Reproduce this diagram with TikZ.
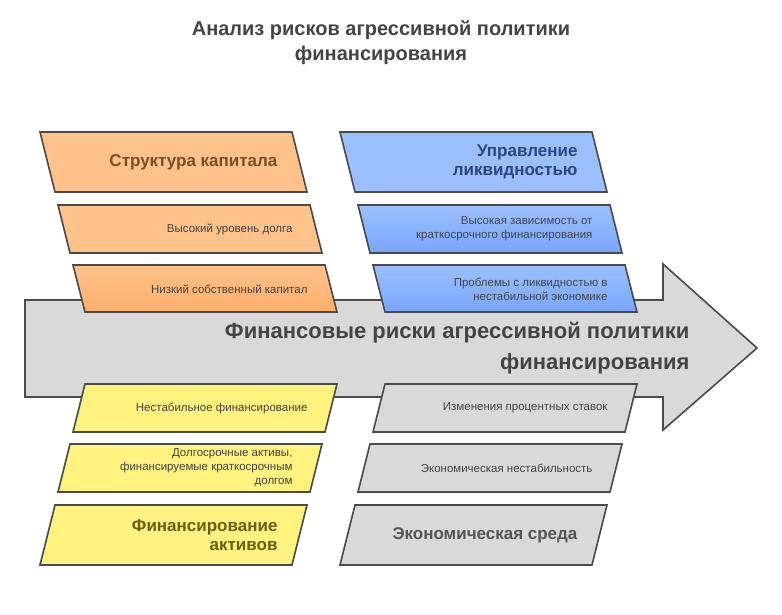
\documentclass[tikz,border=0pt]{standalone}
\usepackage{fontspec}
\setmainfont{Liberation Sans}
\definecolor{edge}{HTML}{4A4A4A}
\definecolor{org}{HTML}{FFC28A}
\definecolor{orgd}{HTML}{FDAE6B}
\definecolor{blu}{HTML}{9CC0FF}
\definecolor{blud}{HTML}{78A6FF}
\definecolor{yel}{HTML}{FFF27E}
\definecolor{gry}{HTML}{D9D9D9}
\definecolor{orgt}{HTML}{7A4E26}
\definecolor{blut}{HTML}{2B4780}
\definecolor{yelt}{HTML}{6B5E10}
\definecolor{gryt}{HTML}{555555}
\definecolor{txt}{HTML}{444444}
\newcommand{\paral}[7]{\draw[box,#7] (#3,#1) -- (#4,#1) -- (#6,#2) -- (#5,#2) -- cycle;}
\begin{document}
\begin{tikzpicture}[x=1pt,y=-1pt,
  box/.style={draw=edge,line width=1.6pt,line join=miter},
  small/.style={font=\fontsize{11.5}{14}\selectfont,text=txt,align=right,anchor=east},
  head/.style={font=\bfseries\fontsize{17}{19}\selectfont,align=right,anchor=east}]
\useasboundingbox (0,0) rectangle (782,614);
\node[font=\bfseries\fontsize{20}{25}\selectfont,text=txt,align=center] (title) at (381,43) {Анализ рисков агрессивной политики\\финансирования};
% arrow
\draw[box,fill=gry] (25,300) -- (663,300) -- (663,264) -- (757,348) -- (663,430) -- (663,397) -- (25,397) -- cycle;
\node[font=\bfseries\fontsize{22}{31}\selectfont,text=txt,align=right,anchor=east] (main) at (693,348) {Финансовые риски агрессивной политики\\финансирования};
% top left orange
\paral{132}{192}{40}{292}{55}{307}{fill=org}
\paral{205}{253}{58}{310}{70}{322}{fill=org}
\paral{265}{312}{73}{325}{85}{337}{top color=org,bottom color=orgd}
\node[head,text=orgt] (o1) at (281,162) {Структура капитала};
\node[small] (o2) at (296,229) {Высокий уровень долга};
\node[small] (o3) at (311,289) {Низкий собственный капитал};
% top right blue
\paral{132}{192}{340}{592}{355}{607}{top color=blu,bottom color=blu}
\paral{205}{253}{358}{610}{370}{622}{top color=blu,bottom color=blud}
\paral{265}{312}{373}{625}{385}{637}{top color=blu,bottom color=blud}
\node[head,text=blut] (b1) at (581,162) {Управление\\ликвидностью};
\node[small] (b2) at (596,229) {Высокая зависимость от\\краткосрочного финансирования};
\node[small] (b3) at (611,289) {Проблемы с ликвидностью в\\нестабильной экономике};
% bottom left yellow
\paral{384}{432}{85}{337}{73}{325}{fill=yel}
\paral{444}{492}{70}{322}{58}{310}{fill=yel}
\paral{505}{565}{55}{307}{40}{292}{fill=yel}
\node[small] (y1) at (311,408) {Нестабильное финансирование};
\node[small] (y2) at (296,468) {Долгосрочные активы,\\финансируемые краткосрочным\\долгом};
\node[head,text=yelt] (y3) at (281,535) {Финансирование\\активов};
% bottom right grey
\paral{384}{432}{385}{637}{373}{625}{fill=gry}
\paral{444}{492}{370}{622}{358}{610}{fill=gry}
\paral{505}{565}{355}{607}{340}{592}{fill=gry}
\node[small] (g1) at (611,408) {Изменения процентных ставок};
\node[small] (g2) at (596,468) {Экономическая нестабильность};
\node[head,text=gryt] (g3) at (581,535) {Экономическая среда};
\end{tikzpicture}
\end{document}
